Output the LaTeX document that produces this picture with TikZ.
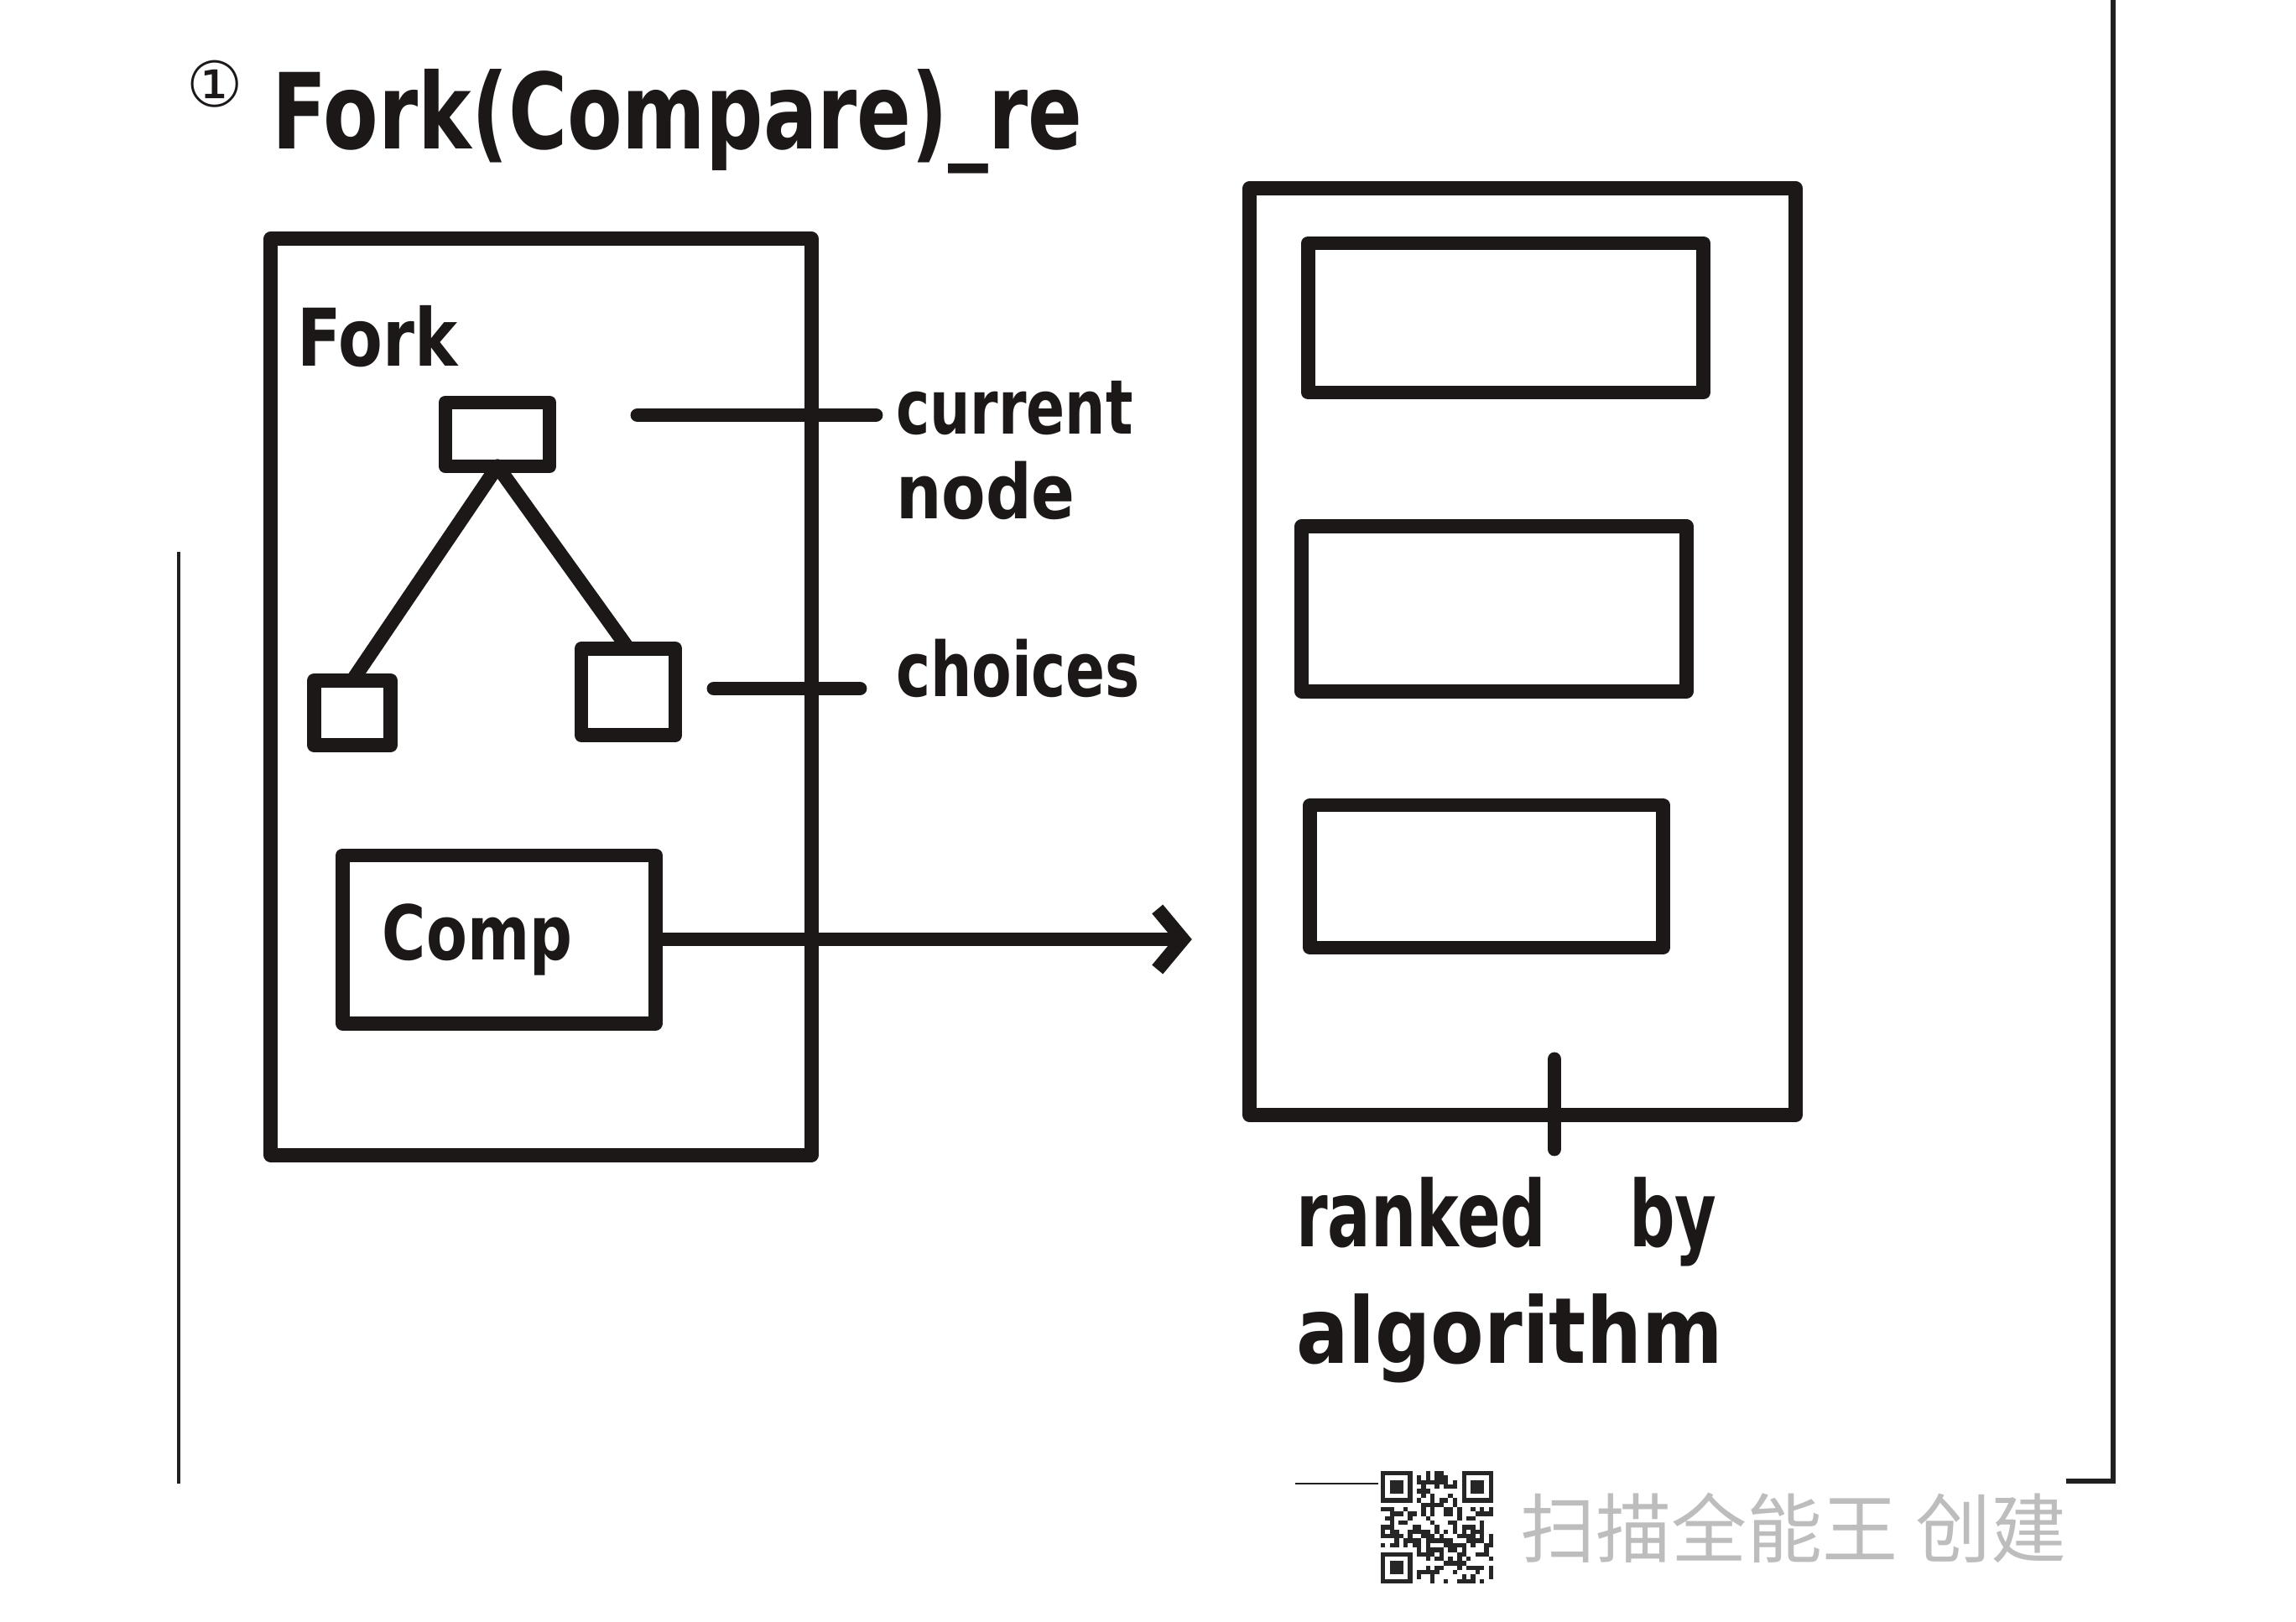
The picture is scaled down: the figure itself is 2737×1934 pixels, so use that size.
\documentclass[tikz,border=0pt]{standalone}
\usepackage{fontspec}
\setmainfont{DejaVu Sans}
\newfontfamily\cjk{Noto Sans CJK SC}
\usepackage{graphicx}
\usetikzlibrary{arrows.meta}
\definecolor{inkc}{HTML}{1C1818}
\definecolor{wmgray}{HTML}{BDBDBD}
\definecolor{edgec}{HTML}{202020}
\begin{document}
\begin{tikzpicture}[x=0.01cm,y=-0.01cm,
  ink/.style={draw=inkc,line width=4.8pt,line cap=round,line join=round},
  hbox/.style={ink,rectangle,inner sep=0pt,outer sep=0pt,text=inkc},
  hand/.style={text=inkc,inner sep=0pt,outer sep=0pt},
  arr/.style={ink,-{Straight Barb[length=0.3cm,width=0.72cm]}},
  pageedge/.style={draw=edgec,line width=1.2pt},
  qrc/.style={fill=black!85},
]
\useasboundingbox (0,0) rectangle (2737,1934);
\fill[white] (0,0) rectangle (2737,1934);

% scan page edges
\draw[pageedge] (213,658) -- (213,1769);
\draw[pageedge,line width=1.6pt] (2519,0) -- (2519,1769);
\draw[pageedge,line width=0.8pt] (1544,1769) -- (1643,1769);
\draw[pageedge,line width=1.6pt] (2463,1766) -- (2521,1766);

% title
\node[hand,anchor=base west,font=\bfseries\fontsize{35.6}{42}\selectfont] (title) at (222,178)
  {\raisebox{0.5cm}{\scalebox{0.6}{\mdseries ①}}\hspace{0.35cm}\scalebox{0.764}[1]{Fork(Compare)\_re}};

% left container
\node[hbox,minimum width=6.44cm,minimum height=10.92cm] (fork) at (645,831) {};
\node[hand,anchor=base west,font=\bfseries\fontsize{27}{32}\selectfont] (forklbl) at (354,437) {\scalebox{0.81}[1]{Fork}};

% tree
\node[hbox,minimum width=1.24cm,minimum height=0.76cm] (tn) at (593,518) {};
\node[hbox,minimum width=0.91cm,minimum height=0.77cm] (bl) at (420,850) {};
\node[hbox,minimum width=1.12cm,minimum height=1.03cm] (br) at (749,825) {};
\draw[ink] (tn.south) -- (bl.north);
\draw[ink] (tn.south) -- (br.north);

% comp box
\node[hbox,minimum width=3.73cm,minimum height=2cm,font=\bfseries\fontsize{25.6}{30}\selectfont] (comp) at (595,1120) {\scalebox{0.79}[1]{Comp}\kern0.52cm};

% labels
\node[hand,anchor=base west,align=left,font=\bfseries\fontsize{25.6}{28.45}\selectfont] (cur) at (1068,618)
  {\scalebox{0.755}[1]{current}\\\scalebox{0.85}[1]{node}};
\node[hand,anchor=base west,font=\bfseries\fontsize{25.6}{30}\selectfont] (cho) at (1068,830)
  {\scalebox{0.77}[1]{choices}};
\coordinate (cn-a) at (760,495);
\coordinate (ch-a) at (851,821);
\draw[ink,shorten >=0.24cm] (cn-a) -- (cn-a -| cur.west);
\draw[ink,shorten >=0.43cm] (ch-a) -- (ch-a -| cho.west);

% right container
\node[hbox,minimum width=6.5cm,minimum height=11.05cm] (rbox) at (1815,777) {};
\node[hbox,minimum width=4.71cm,minimum height=1.78cm] (r1) at (1795,379) {};
\node[hbox,minimum width=4.58cm,minimum height=1.97cm] (r2) at (1781,726) {};
\node[hbox,minimum width=4.20cm,minimum height=1.70cm] (r3) at (1772,1045) {};

% arrow
\draw[arr,shorten >=0.69cm] (comp.east) -- (comp.east -| rbox.west);

% tick and label
\coordinate (tk-a) at (1853,1263);
\coordinate (tk-b) at (1853,1370);
\draw[ink] (tk-a) -- (tk-b);
\node[hand,anchor=base west,align=left,font=\bfseries\fontsize{31}{39.5}\selectfont] (rank) at (1545,1625)
  {\scalebox{0.7}[1]{ranked\hspace{1.41cm}by}\\\scalebox{0.85}[1]{algorithm}};

% watermark
\pgfmathsetseed{12345}
\foreach \i in {0,...,24}{
  \foreach \j in {0,...,24}{
    \pgfmathtruncatemacro{\fz}{((\i<8)&&(\j<8))||((\i>16)&&(\j<8))||((\i<8)&&(\j>16))}
    \ifnum\fz=0
      \pgfmathrandominteger{\rr}{0}{1}
      \ifnum\rr=1
        \fill[qrc] ({1646+\i*5.36},{1754+\j*5.36}) rectangle ++(5.4,5.4);
      \fi
    \fi
  }
}
\foreach \fx/\fy in {0/0,18/0,0/18}{
  \fill[qrc] ({1646+\fx*5.36},{1754+\fy*5.36}) rectangle ++(37.5,37.5);
  \fill[white] ({1646+(\fx+1)*5.36},{1754+(\fy+1)*5.36}) rectangle ++(26.8,26.8);
  \fill[qrc] ({1646+(\fx+2)*5.36},{1754+(\fy+2)*5.36}) rectangle ++(16.1,16.1);
}
\node[text=wmgray,anchor=west,inner sep=0pt,font=\cjk\fontsize{25.6}{30}\selectfont] (wm) at (1812,1822) {扫描全能王 创建};
\end{tikzpicture}
\end{document}
